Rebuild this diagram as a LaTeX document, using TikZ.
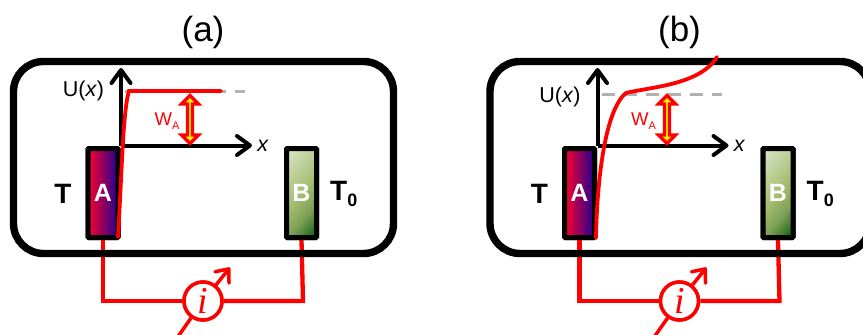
\documentclass[tikz,border=0pt]{standalone}
\usepackage{fontspec}
\setmainfont{Liberation Sans}
\newfontfamily\serifit[ItalicFont=Liberation Serif Italic]{Liberation Serif}
\usetikzlibrary{arrows.meta,shapes.arrows}
\definecolor{wred}{RGB}{255,0,0}
\definecolor{dashgray}{RGB}{178,178,178}
\definecolor{greenA}{RGB}{215,228,198}
\definecolor{greenB}{RGB}{165,189,112}
\definecolor{greenD}{RGB}{125,160,85}
\definecolor{greenC}{RGB}{20,100,20}
\definecolor{hotred}{RGB}{255,0,45}
\definecolor{hotblue}{RGB}{30,0,145}
\pgfdeclareverticalshading{greenfade}{100bp}{color(0bp)=(greenC); color(17bp)=(greenC); color(34bp)=(greenD); color(50bp)=(greenB); color(83bp)=(greenA); color(100bp)=(greenA)}
\tikzset{
  chamber/.style={draw=black,line width=7.4pt,rounded corners=30pt},
  probe/.style={draw=black,line width=5pt,rounded corners=1pt,minimum width=30pt,minimum height=89pt,inner sep=0pt,
    text=white,font=\fontsize{25}{25}\selectfont\bfseries},
  probeA/.style={probe,left color=hotred,right color=hotblue},
  probeB/.style={probe,shade,shading=greenfade,shading angle=50},
  temp/.style={font=\fontsize{28}{28}\selectfont\bfseries,inner sep=0pt},
  wire/.style={draw=wred,line width=4.3pt,line join=miter},
  axisline/.style={draw=black,line width=4pt,-{Straight Barb[length=13pt,width=19pt,round]}},
  meter/.style={circle,draw=wred,fill=white,line width=3.5pt,minimum size=38pt,inner sep=0pt,text=wred},
  needle/.style={draw=wred,line width=3.5pt},
  needletip/.style={needle,-{Straight Barb[length=11pt,width=18pt,round]}},
  curve/.style={draw=wred,line width=3.8pt,line cap=round},
  level/.style={draw=dashgray,line width=3pt,dash pattern=on 13pt off 9pt},
  gap/.style={double arrow,draw=wred,fill=yellow,line width=3.2pt,rotate=90,inner sep=0pt,minimum width=17pt,
    minimum height=48pt,double arrow head extend=3.7pt,double arrow tip angle=90},
  title/.style={font=\fontsize{35}{35}\selectfont,inner sep=0pt},
  lab/.style={font=\fontsize{21.5}{21.5}\selectfont,inner sep=0pt},
  wlab/.style={font=\fontsize{18.5}{18.5}\selectfont,text=wred,inner sep=0pt},
}
\newcommand{\panelparts}[3]{%
  % #1 suffix, #2 title, #3 height of the U(x) label
  \node[title] (title#1) at (203,32) {(#2)};
  \coordinate (cl#1) at (103,301);
  \coordinate (cr#1) at (303,301);
  \node[probeA] (A#1) at (103,193) {A};
  \node[probeB] (B#1) at (301.5,193) {B};
  \node[meter] (M#1) at (203,301) {};
  \draw[wire] (A#1.south) -- (cl#1) -- (M#1.west);
  \draw[wire] (M#1.east) -- (cr#1) -- (B#1.south);
  \coordinate (c1#1) at (13.5,61.5);
  \coordinate (c2#1) at (393.5,253.5);
  \draw[chamber] (c1#1) rectangle (c2#1);
  \node[probeA] at (A#1) {A};
  \node[probeB] at (B#1) {B};
  \node[temp] (T#1) at (63,194) {T};
  \node[temp,anchor=west] (Tz#1) at (330,194) {T\raisebox{-6.5pt}{\fontsize{18}{18}\selectfont 0}};
  \coordinate (o#1) at (121,145.5);
  \coordinate (ytop#1) at (121,68);
  \coordinate (xend#1) at (252,145.5);
  \draw[axisline] (o#1) -- (ytop#1);
  \draw[axisline] (o#1) -- (xend#1);
  \node[lab] (U#1) at (83.5,#3) {U(\textit{x})};
  \node[lab] (x#1) at (263,146) {\textit{x}};
  \node[wlab] (W#1) at (167,121) {W\raisebox{-3.5pt}{\fontsize{11}{11}\selectfont A}};
  \coordinate (n1#1) at (177,338);
  \coordinate (n2#1) at (230,267.5);
  \draw[needle] (M#1) -- (n1#1);
  \draw[needletip] (M#1) -- (n2#1);
  \node[meter] at (M#1) {};
  \node[text=wred,font=\serifit\itshape\fontsize{38}{38}\selectfont,inner sep=0pt] (i#1) at (M#1) {i};
}
\begin{document}
\begin{tikzpicture}[x=1pt,y=-1pt]
\clip (0,0) rectangle (863,335);
\fill[white] (0,0) rectangle (863,335);
% panel (a)
\panelparts{a}{a}{90.5}
\coordinate (la1) at (125,91);
\coordinate (la2) at (245,91);
\draw[level] (la1) -- (la2);
\node[gap] (ga) at (190,119.5) {};
\coordinate (ca0) at (118,237);
\coordinate (ca1) at (129,91);
\coordinate (ca2) at (221,91);
\draw[curve] (ca0) .. controls (122,170) and (123,110) .. (ca1) -- (ca2);
% panel (b)
\begin{scope}[xshift=476.5pt]
\panelparts{b}{b}{97}
\end{scope}
\coordinate (lb1) at (602,94);
\coordinate (lb2) at (722,94);
\draw[level] (lb1) -- (lb2);
\node[gap] (gb) at (667,119.5) {};
\coordinate (cb0) at (596,238);
\coordinate (cb1) at (626,93);
\coordinate (cb2) at (717,57);
\draw[curve] (cb0) .. controls (597,180) and (605,110) .. (cb1) .. controls (650,87) and (700,85) .. (cb2);
\end{tikzpicture}
\end{document}
